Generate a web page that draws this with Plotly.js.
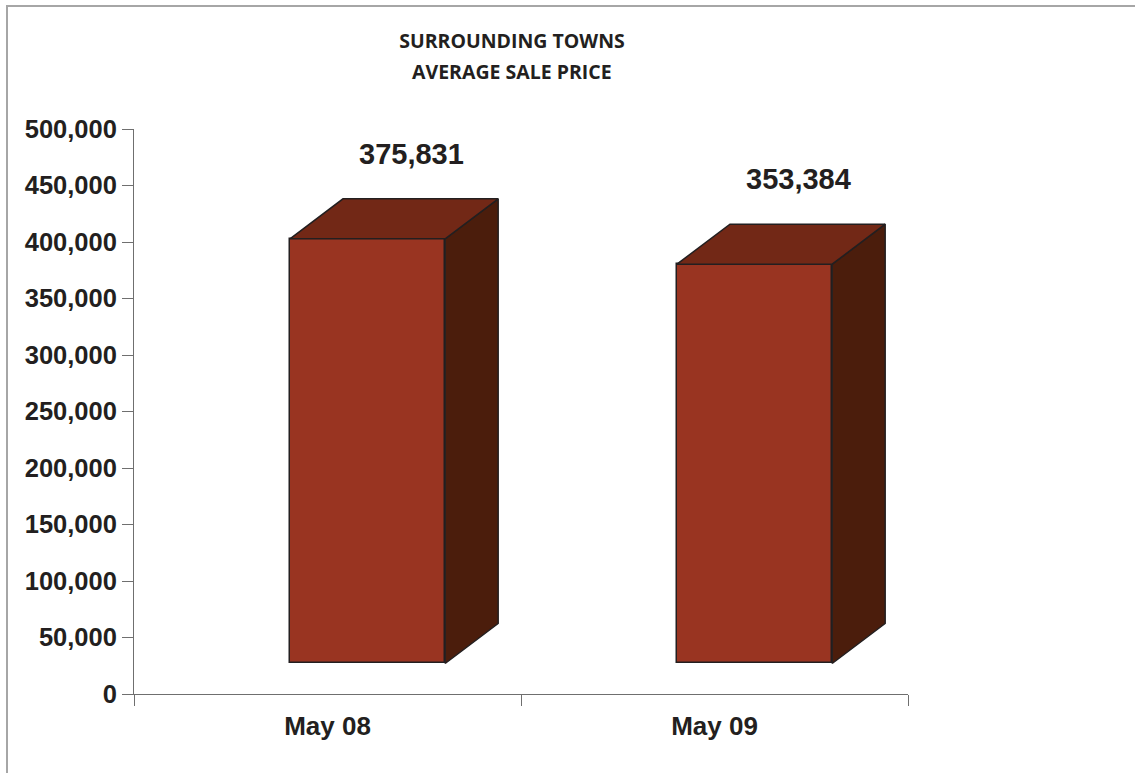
<!DOCTYPE html>
<html>
<head>
<meta charset="utf-8">
<script src="https://cdn.plot.ly/plotly-3.0.1.min.js"></script>
<style>
  html, body { margin: 0; padding: 0; background: #ffffff; }
  #wrap { position: relative; width: 1135px; height: 773px; overflow: hidden; }
  #frame { position: absolute; left: 6px; top: 5px; width: 1200px; height: 900px;
           border-left: 2px solid #a6a6a6; border-top: 2px solid #a6a6a6; pointer-events: none; }
  #chart { position: absolute; left: 0; top: 0; width: 1135px; height: 773px; }
</style>
</head>
<body>
<div id="wrap">
  <div id="frame"></div>
  <div id="chart"></div>
</div>
<script>
// ---- data ----
const categories = ["May 08", "May 09"];
const avgPrice = [375831, 353384];
const yTickValues = [0, 50000, 100000, 150000, 200000, 250000, 300000, 350000, 400000, 450000, 500000];
const titleLines = ["SURROUNDING TOWNS", "AVERAGE SALE PRICE"];

// ---- 3D look (Excel-style) ----
const centers = categories.map((c, i) => i + 0.5);
const baseVal = 27000;     // front face floor offset (value units)
const depthX = 0.137;      // depth offset in x units
const depthY = 35400;      // depth offset in value units
const faceLeft = -0.097;   // front face left relative to category centre
const faceWidth = 0.401;

const colFront = "#993421";
const colTop = "#722816";
const colSide = "#4b1d0c";
const colEdge = "#231f20";

const traces = [];
avgPrice.forEach((v, i) => {
  const L = centers[i] + faceLeft;
  const R = L + faceWidth;
  const B = baseVal;
  const T = baseVal + v;
  // side face
  traces.push({
    type: "scatter", mode: "lines", fill: "toself", fillcolor: colSide,
    x: [R, R + depthX, R + depthX, R, R],
    y: [B, B + depthY, T + depthY, T, B],
    line: { color: colEdge, width: 1.5 }, hoverinfo: "skip", showlegend: false
  });
  // top face
  traces.push({
    type: "scatter", mode: "lines", fill: "toself", fillcolor: colTop,
    x: [L, R, R + depthX, L + depthX, L],
    y: [T, T, T + depthY, T + depthY, T],
    line: { color: colEdge, width: 1.5 }, hoverinfo: "skip", showlegend: false
  });
});
// front faces as a real bar trace
traces.push({
  type: "bar",
  x: centers,
  y: avgPrice,
  base: baseVal,
  width: faceWidth,
  offset: faceLeft,
  marker: { color: colFront, line: { color: colEdge, width: 1.5 } },
  text: categories,
  hovertemplate: "%{text}: %{y:,d}<extra></extra>",
  textposition: "none",
  showlegend: false
});

const annotations = avgPrice.map((v, i) => ({
  x: centers[i] + 0.216,
  y: baseVal + v + depthY,
  xref: "x", yref: "y",
  text: v.toLocaleString("en-US"),
  showarrow: false,
  yanchor: "middle",
  yshift: 45,
  font: { family: "Liberation Sans, Arial, sans-serif", size: 29, color: "#231f20", weight: "bold" }
}));
// second title line (plot area: x 134..908, y 129..694)
annotations.push({
  x: (512 - 134) / 774, y: 1, xref: "paper", yref: "paper",
  yshift: 129 - 71.5,
  text: titleLines[1], showarrow: false, xanchor: "center", yanchor: "middle",
  font: { family: "Open Sans, sans-serif", size: 19.5, color: "#231f20", weight: "bold" }
});

const axisGray = "#6f6f6f";

const layout = {
  width: 1135, height: 773,
  paper_bgcolor: "rgba(0,0,0,0)",
  plot_bgcolor: "rgba(0,0,0,0)",
  margin: { l: 134, r: 227, t: 129, b: 79, pad: 0 },
  title: {
    text: titleLines[0],
    x: 512 / 1135, xanchor: "center", xref: "container",
    y: 1 - 41.5 / 773, yanchor: "middle", yref: "container",
    font: { family: "Open Sans, sans-serif", size: 19.5, color: "#231f20", weight: "bold" }
  },
  xaxis: {
    range: [0, 2],
    tickvals: centers,
    ticktext: categories,
    ticks: "",
    showline: true, linecolor: axisGray, linewidth: 1,
    showgrid: false, zeroline: false,
    ticklabelstandoff: 9,
    minor: { tickvals: [0, 1, 2], ticks: "outside", ticklen: 11, tickcolor: axisGray, tickwidth: 1, showgrid: false },
    tickfont: { family: "Liberation Sans, Arial, sans-serif", size: 26, color: "#231f20", weight: "bold" },
    fixedrange: true
  },
  yaxis: {
    range: [0, 500000],
    tickvals: yTickValues,
    tickformat: ",d",
    ticks: "outside", ticklen: 11, tickcolor: axisGray, tickwidth: 1,
    showline: true, linecolor: axisGray, linewidth: 1,
    showgrid: false, zeroline: false,
    ticklabelstandoff: 0,
    tickfont: { family: "Liberation Sans, Arial, sans-serif", size: 25.5, color: "#231f20", weight: "bold" },
    fixedrange: true
  },
  annotations: annotations,
  bargap: 0,
  showlegend: false
};

Plotly.newPlot("chart", traces, layout, { displayModeBar: false, staticPlot: false });
</script>
</body>
</html>
